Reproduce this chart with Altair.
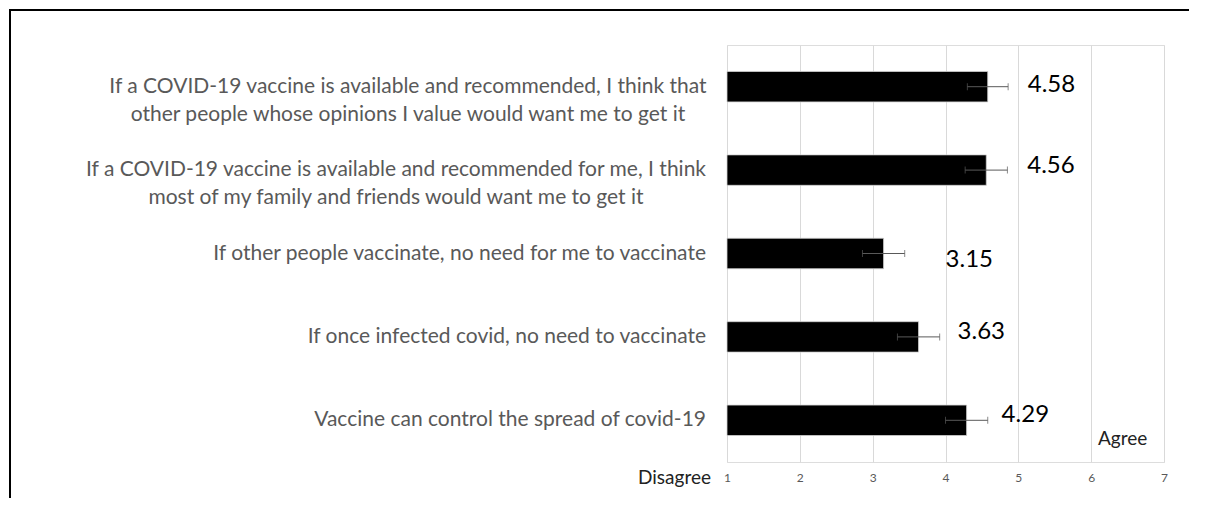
import altair as alt
import pandas as pd

# ---- data ----
label_lines = [
    ["If a COVID-19 vaccine is available and recommended, I think that",
     "other people whose opinions I value would want me to get it"],
    ["If a COVID-19 vaccine is available and recommended for me, I think",
     "most of my family and friends would want me to get it"],
    ["If other people vaccinate, no need for me to vaccinate"],
    ["If once infected covid, no need to vaccinate"],
    ["Vaccine can control the spread of covid-19"],
]
means = [4.58, 4.56, 3.15, 3.63, 4.29]
errors = [0.28, 0.29, 0.29, 0.29, 0.29]
x_ticks = [1, 2, 3, 4, 5, 6, 7]

# hand placement of each value label (pixels from bar end / bar centre)
label_nudge = [(40, -2), (41, -4), (62, 6), (39, -5), (35, -5)]

cats = [" ".join(l) for l in label_lines]
df = pd.DataFrame({
    "cat": cats,
    "idx": list(range(len(cats))),
    "label": ["|".join(l) for l in label_lines],
    "nlines": [len(l) for l in label_lines],
    "mean": means,
    "lo": [m - e for m, e in zip(means, errors)],
    "hi": [m + e for m, e in zip(means, errors)],
    "text": [f"{m:.2f}" for m in means],
})

W, H = 437, 417
PAD = {"left": 719, "top": 37, "right": 37, "bottom": 40}
FONT = "Lato"
GREY = "#595959"

xscale = alt.Scale(domain=[1, 7], nice=False, zero=False)
yscale = alt.Scale(paddingInner=0.635, paddingOuter=0.3175)
ysort = cats
Y = alt.Y("cat:N", sort=ysort, scale=yscale)

base = alt.Chart(df)

bars = base.mark_bar(color="black", stroke="#d0d0d0", strokeWidth=0.8).encode(
    x=alt.X("mean:Q", scale=xscale,
            axis=alt.Axis(values=x_ticks, format="d", title=None, grid=True,
                          gridColor="#d9d9d9", domain=False, ticks=False,
                          labelFlush=False, labelColor=GREY, labelFont=FONT,
                          labelFontSize=12, labelPadding=10)),
    x2=alt.datum(1),
    y=alt.Y("cat:N", sort=ysort, scale=yscale,
            axis=alt.Axis(title=None, domain=False, ticks=False, grid=False,
                          labels=False)),
)

# category labels: single-line ones right-aligned, two-line blocks with centred lines
lab_style = dict(font=FONT, fontSize=21, color=GREY, lineBreak="|",
                 lineHeight=28, baseline="middle")
lab_single = base.transform_filter("datum.nlines == 1").mark_text(
    align="right", **lab_style).encode(y=Y, x=alt.value(-21), text="label:N")
lab_two_a = base.transform_filter("datum.idx == 0").mark_text(
    align="center", **lab_style).encode(y=Y, x=alt.value(-319), text="label:N")
lab_two_b = base.transform_filter("datum.idx == 1").mark_text(
    align="center", **lab_style).encode(y=Y, x=alt.value(-331), text="label:N")

err = base.mark_rule(color=GREY, strokeWidth=1).encode(
    x=alt.X("lo:Q", scale=xscale), x2="hi:Q", y=Y)
cap_lo = base.mark_tick(color=GREY, thickness=1, size=7, orient="vertical").encode(
    x=alt.X("lo:Q", scale=xscale), y=Y)
cap_hi = base.mark_tick(color=GREY, thickness=1, size=7, orient="vertical").encode(
    x=alt.X("hi:Q", scale=xscale), y=Y)

val_layers = []
for i, (ddx, ddy) in enumerate(label_nudge):
    val_layers.append(
        base.transform_filter(f"datum.idx == {i}").mark_text(
            align="left", baseline="middle", dx=ddx, dy=ddy,
            font=FONT, fontSize=24, color="black").encode(
            x=alt.X("mean:Q", scale=xscale), y=Y, text="text:N"))

ann = pd.DataFrame({"t": ["Disagree", "Agree"]})
disagree = alt.Chart(ann[ann.t == "Disagree"]).mark_text(
    align="right", baseline="middle", font=FONT, fontSize=19, color="#222222"
).encode(text="t:N", x=alt.value(-16), y=alt.value(H + 16))
agree = alt.Chart(ann[ann.t == "Agree"]).mark_text(
    align="left", baseline="middle", font=FONT, fontSize=19, color="#222222"
).encode(text="t:N", x=alt.value(371), y=alt.value(394))

# outer frame (top and left edges; the others lie outside the picture)
one = pd.DataFrame({"f": [0]})
frame_top = alt.Chart(one).mark_rect(color="black").encode(
    x=alt.value(-PAD["left"] + 1), x2=alt.value(W + PAD["right"] - 12),
    y=alt.value(-PAD["top"] + 1), y2=alt.value(-PAD["top"] + 3))
frame_left = alt.Chart(one).mark_rect(color="black").encode(
    x=alt.value(-PAD["left"] + 1), x2=alt.value(-PAD["left"] + 3),
    y=alt.value(-PAD["top"] + 1), y2=alt.value(H + PAD["bottom"] - 4))

chart = alt.layer(frame_top, frame_left, bars, err, cap_lo, cap_hi, *val_layers,
                  lab_single, lab_two_a, lab_two_b, disagree, agree).properties(
    width=W, height=H,
    autosize=alt.AutoSizeParams(type="none"),
    padding=PAD,
).configure_view(stroke=None).configure(font=FONT)

chart.save("out.html", embed_options={"renderer": "svg", "actions": False})
